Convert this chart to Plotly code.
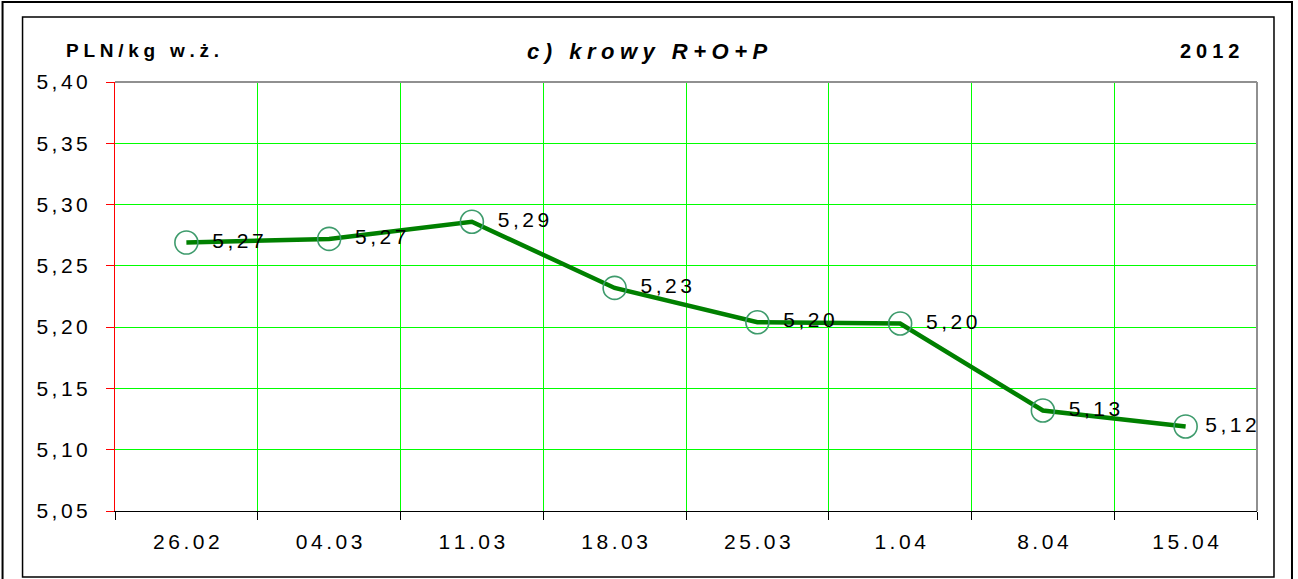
import plotly.graph_objects as go

categories = ["26.02", "04.03", "11.03", "18.03", "25.03", "1.04", "8.04", "15.04"]
prices = [5.269, 5.272, 5.286, 5.232, 5.204, 5.203, 5.132, 5.119]
y_ticks = [5.05, 5.10, 5.15, 5.20, 5.25, 5.30, 5.35, 5.40]
y_title = "PLN/kg w.ż."
chart_title = "c) krowy R+O+P"
year_label = "2012"

W, H = 1298, 579
L, R, T, B = 114.5, 1257, 82, 511
pw, ph = R - L, B - T


def px(x):
    return (x - L) / pw


def py(y):
    return (B - y) / ph


def spaced(s, sp="\u2006"):
    return sp.join(list(s))


def fmt(v):
    return f"{v:.2f}".replace(".", ",")


font = "Liberation Sans, Arial"

labels = []
for i, v in enumerate(prices):
    lead = "\u2009" if i == len(prices) - 1 else "\u2002"
    labels.append(lead + spaced(fmt(v)))

fig = go.Figure()
fig.add_trace(go.Scatter(
    x=categories, y=prices, mode="lines+markers+text",
    line=dict(color="#008000", width=4.5),
    marker=dict(symbol="circle-open", size=23, color="#3E9B6C",
                line=dict(width=1.6, color="#3E9B6C")),
    text=labels,
    textposition="middle right",
    textfont=dict(family=font, size=21, color="#000000"),
    cliponaxis=False,
    showlegend=False,
    hoverinfo="skip",
))

fig.update_layout(
    width=W, height=H,
    margin=dict(l=L, r=W - R, t=T, b=H - B, pad=0),
    paper_bgcolor="white", plot_bgcolor="white",
    xaxis=dict(
        type="category", range=[-0.5, 7.5], tickson="boundaries",
        tickmode="array", tickvals=categories,
        ticktext=[spaced(c) for c in categories],
        showgrid=True, gridcolor="#00FF00", gridwidth=1,
        showline=True, linecolor="#000000", linewidth=1,
        ticks="outside", ticklen=8, tickcolor="#000000",
        ticklabelstandoff=12,
        tickfont=dict(family=font, size=21, color="#000000"),
        zeroline=False, fixedrange=True,
    ),
    yaxis=dict(
        range=[5.05, 5.40], tickmode="array", tickvals=y_ticks,
        ticktext=[spaced(fmt(v)) for v in y_ticks],
        showgrid=True, gridcolor="#00FF00", gridwidth=1,
        showline=True, linecolor="#FF0000", linewidth=1,
        ticks="outside", ticklen=8, tickcolor="#FF0000",
        ticklabelstandoff=14,
        tickfont=dict(family=font, size=21, color="#000000"),
        zeroline=False, fixedrange=True,
    ),
    font=dict(family=font),
)

shapes = [
    dict(type="line", xref="paper", yref="paper", x0=0, x1=1, y0=1, y1=1,
         line=dict(color="#909090", width=2)),
    dict(type="line", xref="paper", yref="paper", x0=1, x1=1, y0=0, y1=1,
         line=dict(color="#909090", width=2)),
    dict(type="rect", xref="paper", yref="paper", x0=px(22), x1=px(1274), y0=py(577), y1=py(17),
         line=dict(color="#000000", width=1.5), fillcolor="rgba(0,0,0,0)"),
    dict(type="rect", xref="paper", yref="paper", x0=px(2), x1=px(1292), y0=py(590), y1=py(2),
         line=dict(color="#000000", width=2), fillcolor="rgba(0,0,0,0)"),
]
fig.update_layout(shapes=shapes)

fig.add_annotation(xref="paper", yref="paper", x=px(63), y=py(51), xanchor="left", yanchor="middle",
                   text="<b>" + spaced(y_title, "\u2005") + "</b>", showarrow=False,
                   font=dict(family=font, size=19, color="#000000"))
fig.add_annotation(xref="paper", yref="paper", x=px(647), y=py(52), xanchor="center", yanchor="middle",
                   text="<b><i>" + spaced(chart_title, "\u2005") + "</i></b>", showarrow=False,
                   font=dict(family=font, size=22, color="#000000"))
fig.add_annotation(xref="paper", yref="paper", x=px(1242), y=py(51), xanchor="right", yanchor="middle",
                   text="<b>" + spaced(year_label, "\u2005") + "</b>", showarrow=False,
                   font=dict(family=font, size=20, color="#000000"))

fig.write_html("out.html", config={"displayModeBar": False},
               post_script="document.body.style.margin='0';")
